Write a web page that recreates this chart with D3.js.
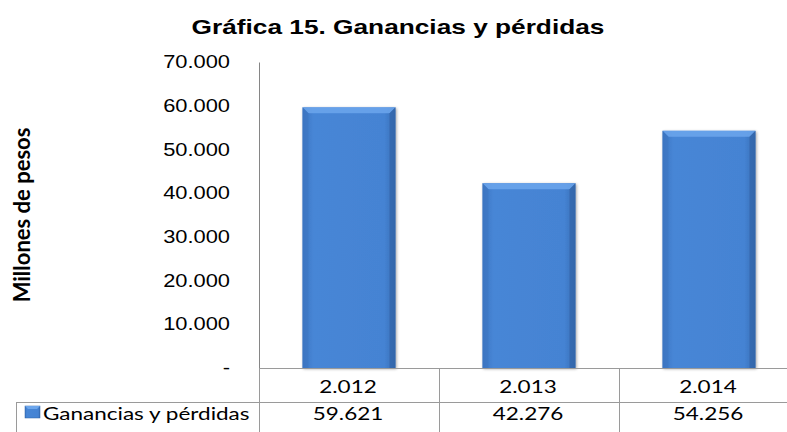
<!DOCTYPE html>
<html><head><meta charset="utf-8">
<script src="https://cdn.jsdelivr.net/npm/d3@7"></script>
<style>body{margin:0;background:#fff;}svg{display:block;}</style>
</head><body>
<svg id="chart" width="787" height="432"></svg>
<script>
const categories = ["2.012", "2.013", "2.014"];
const values = [59621, 42276, 54256];
const seriesName = "Ganancias y pérdidas";
const yTicks = [0, 10000, 20000, 30000, 40000, 50000, 60000, 70000];
const valueLabels = ["59.621", "42.276", "54.256"];
const titleText = "Gráfica 15. Ganancias y pérdidas";
const yTitle = "Millones de pesos";

const SX = 1.25; // horizontal stretch of the original picture's text
const svg = d3.select("#chart");
const loc = d3.formatLocale({decimal: ",", thousands: ".", grouping: [3], currency: ["$", ""]});
const fmt = loc.format(",.0f");

const x = d3.scaleBand().domain(categories).range([259, 799]).paddingInner(0).paddingOuter(0);
const y = d3.scaleLinear().domain([0, 70000]).range([368, 62]);

const defs = svg.append("defs");
const g1 = defs.append("linearGradient").attr("id", "barg").attr("x1", 0).attr("x2", 1).attr("y1", 0).attr("y2", 0);
g1.append("stop").attr("offset", 0).attr("stop-color", "#3b75c2");
g1.append("stop").attr("offset", 0.12).attr("stop-color", "#4786d6");
g1.append("stop").attr("offset", 0.88).attr("stop-color", "#4583d3");
g1.append("stop").attr("offset", 1).attr("stop-color", "#386db5");
const f = defs.append("filter").attr("id", "sh").attr("x", "-20%").attr("y", "-20%").attr("width", "140%").attr("height", "140%");
f.append("feGaussianBlur").attr("in", "SourceAlpha").attr("stdDeviation", 1.5);
f.append("feOffset").attr("dx", 1).attr("dy", 1).attr("result", "b");
f.append("feComponentTransfer").append("feFuncA").attr("type", "linear").attr("slope", 0.35);
const fm = f.append("feMerge");
fm.append("feMergeNode");
fm.append("feMergeNode").attr("in", "SourceGraphic");

function stext(parent, px, py, txt, opts) {
  const t = parent.append("text")
    .attr("transform", `translate(${px},${py}) scale(${SX},1)`)
    .attr("text-anchor", opts.anchor || "start")
    .attr("font-family", opts.family).attr("font-size", opts.size)
    .attr("font-weight", opts.weight || "normal").attr("fill", "#000").text(txt);
  return t;
}

// title
stext(svg, 398, 34, titleText, {anchor: "middle", family: "Liberation Sans, Arial, sans-serif", size: 21, weight: "bold"});

// y title
svg.append("text").attr("transform", `translate(30,215) scale(1.05,1) rotate(-90)`).attr("text-anchor", "middle")
  .attr("font-family", "Lato, Open Sans, sans-serif").attr("font-weight", "bold")
  .attr("font-size", 22).attr("fill", "#000").text(yTitle);

// y axis
const yAxis = d3.axisLeft(y).tickValues(yTicks).tickSize(0).tickPadding(0)
  .tickFormat(d => d === 0 ? "-" : fmt(d));
const ga = svg.append("g").attr("transform", "translate(259,0)").call(yAxis);
ga.select(".domain").attr("stroke", "#868686");
ga.selectAll("text").attr("font-family", "Liberation Sans, Arial, sans-serif").attr("font-size", 17.5).attr("fill", "#000")
  .attr("x", -29 / SX).attr("transform", `scale(${SX},1)`);

// bars
const bw = 93;
const bars = svg.append("g").selectAll("g").data(values).join("g").attr("filter", "url(#sh)");
bars.each(function(v, i) {
  const gg = d3.select(this);
  const cx = x(categories[i]) + x.bandwidth() / 2;
  const x0 = cx - bw / 2, x1 = cx + bw / 2, yt = y(v), yb = y(0);
  const b = 6;
  gg.append("rect").attr("x", x0).attr("y", yt).attr("width", bw).attr("height", yb - yt).attr("fill", "url(#barg)");
  gg.append("polygon").attr("points", [[x0, yt], [x1, yt], [x1 - b, yt + b], [x0 + b, yt + b]].join(" ")).attr("fill", "#6ca6ec").attr("opacity", 0.85);
  gg.append("polygon").attr("points", [[x0, yt], [x0 + b, yt + b], [x0 + b, yb], [x0, yb]].join(" ")).attr("fill", "#3a74c0").attr("opacity", 0.5);
  gg.append("polygon").attr("points", [[x1, yt], [x1 - b, yt + b], [x1 - b, yb], [x1, yb]].join(" ")).attr("fill", "#2f60a3").attr("opacity", 0.55);
});

// table
const tcol = "#9a9a9a";
const tbl = svg.append("g").attr("stroke", tcol).attr("stroke-width", 1).attr("shape-rendering", "crispEdges");
tbl.append("line").attr("x1", 259).attr("x2", 787).attr("y1", 368.5).attr("y2", 368.5);
tbl.append("line").attr("x1", 16).attr("x2", 787).attr("y1", 402.5).attr("y2", 402.5);
tbl.append("line").attr("x1", 16.5).attr("x2", 16.5).attr("y1", 402).attr("y2", 432);
tbl.append("line").attr("x1", 259.5).attr("x2", 259.5).attr("y1", 368).attr("y2", 432);
categories.forEach((c, i) => {
  if (i > 0) tbl.append("line").attr("x1", Math.round(x(c)) + 0.5).attr("x2", Math.round(x(c)) + 0.5).attr("y1", 368).attr("y2", 432);
});
const tf = "Lato, Open Sans, sans-serif";
const hdr = svg.append("g");
categories.forEach(c => stext(hdr, x(c) + x.bandwidth() / 2 - 1, 393, c, {anchor: "middle", family: tf, size: 18}));
const vals = svg.append("g");
valueLabels.forEach((d, i) => stext(vals, x(categories[i]) + x.bandwidth() / 2 - 1, 420, d, {anchor: "middle", family: tf, size: 18}));
// legend key
svg.append("rect").attr("x", 25).attr("y", 406).attr("width", 15).attr("height", 12).attr("fill", "url(#barg)").attr("stroke", "#2f60a3").attr("stroke-width", 0.5);
svg.append("polygon").attr("points", "25,406 40,406 37,409 28,409").attr("fill", "#6ca6ec");
stext(svg, 43, 420, seriesName, {family: tf, size: 18});
</script>
</body></html>
